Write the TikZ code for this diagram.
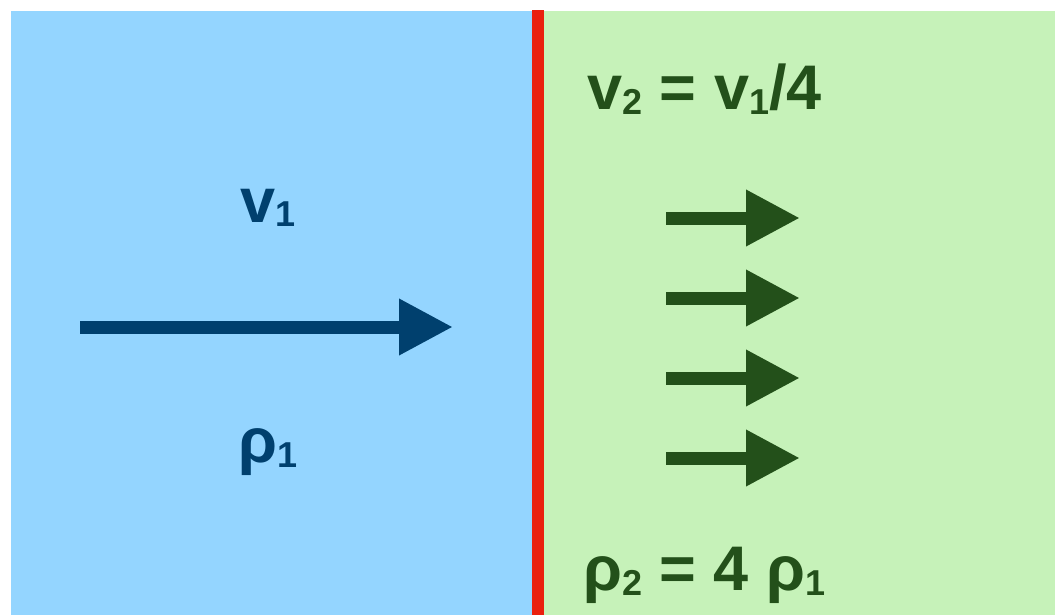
\documentclass[tikz,border=0pt]{standalone}
\usepackage{fontspec}
\setmainfont{Liberation Sans}
\usepackage{tikz}
\usetikzlibrary{arrows.meta,positioning}
\definecolor{FlowBlue}{HTML}{94D5FF}
\definecolor{DeepBlue}{HTML}{00406E}
\definecolor{FlowGreen}{HTML}{C6F2B9}
\definecolor{DeepGreen}{HTML}{23501A}
\definecolor{FrontRed}{HTML}{EA200E}
\newcommand{\sbs}[1]{\raisebox{-5pt}{\fontsize{36}{36}\selectfont #1}}

\tikzset{
  bigtxt/.style={font=\fontsize{63}{70}\selectfont\bfseries,anchor=base west,inner sep=0pt},
  flowarrow/.style={line width=13pt,-{Triangle[length=54pt,width=53pt]}}
}

\begin{document}
\begin{tikzpicture}[x=1pt,y=-1pt]
    \useasboundingbox (0,0) rectangle (1055,615);
    % the two regions and the front
    \fill[FlowBlue] (11,11) rectangle (532,615);
    \fill[FlowGreen] (544,11) rectangle (1055,615);
    \fill[FrontRed] (532,10) rectangle (544,615);

    % upstream side
    \node[bigtxt,text=DeepBlue] (vone) at (240,222) {v\sbs{1}};
    \node[bigtxt,text=DeepBlue] (rhoone) at (238,462) {ρ\sbs{1}};
    \coordinate (inA) at (80,327);
    \coordinate (inB) at (453,327);
    \draw[flowarrow,DeepBlue] (inA) -- (inB);

    % downstream side
    \node[bigtxt,text=DeepGreen] (vtwo) at (587,110) {v\sbs{2} = v\sbs{1}/4};
    \node[bigtxt,text=DeepGreen] (rhotwo) at (583,590) {ρ\sbs{2} = 4 ρ\sbs{1}};
    \foreach \yy/\nm in {218/a,298/b,378/c,458/d}{
      \coordinate (out\nm A) at (666,\yy);
      \coordinate (out\nm B) at (800,\yy);
      \draw[flowarrow,DeepGreen] (out\nm A) -- (out\nm B);
    }
  \end{tikzpicture}
\end{document}
